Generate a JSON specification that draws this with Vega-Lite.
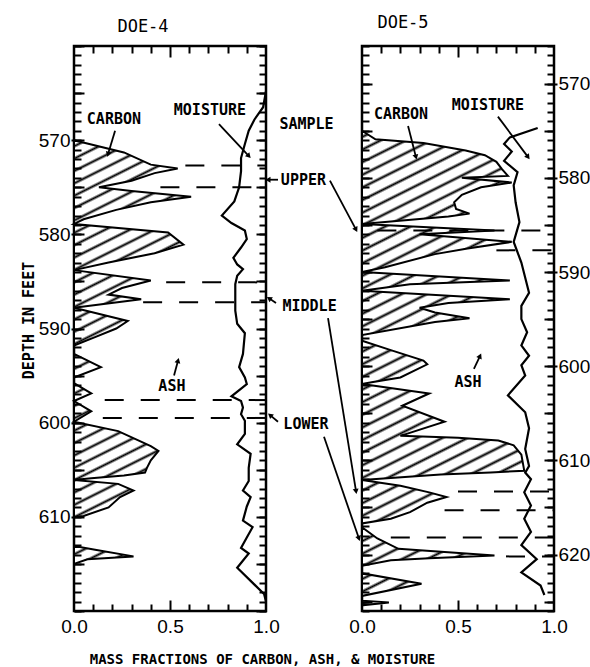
{
"$schema": "https://vega.github.io/schema/vega-lite/v6.json",
"background": "white",
"padding": {"left": 19, "top": 12, "right": 5, "bottom": 5},
"config": {
  "view": {"stroke": "black", "strokeWidth": 2.5},
  "axis": {"domain": false, "grid": false, "tickColor": "black", "tickWidth": 2, "labelColor": "black", "labelFont": "Liberation Sans Narrow, Liberation Sans", "labelFontSize": 19, "labelFlush": false, "labelOverlap": false, "titleColor": "black", "zindex": 1},
  "title": {"font": "DejaVu Sans Mono", "fontSize": 17, "fontWeight": "normal", "color": "black", "anchor": "middle", "frame": "group", "baseline": "alphabetic"}
},
"datasets": {
  "c4": [
    {"depth": 570.0, "carbon": 0.0}, {"depth": 571.3, "carbon": 0.26}, {"depth": 572.6, "carbon": 0.40}, {"depth": 573.0, "carbon": 0.54},
    {"depth": 573.5, "carbon": 0.42}, {"depth": 574.3, "carbon": 0.30}, {"depth": 575.0, "carbon": 0.13}, {"depth": 575.4, "carbon": 0.30},
    {"depth": 576.0, "carbon": 0.61}, {"depth": 576.6, "carbon": 0.40}, {"depth": 577.4, "carbon": 0.22}, {"depth": 578.4, "carbon": 0.05},
    {"depth": 578.9, "carbon": 0.0}, {"depth": 579.8, "carbon": 0.49}, {"depth": 581.1, "carbon": 0.57}, {"depth": 582.0, "carbon": 0.42},
    {"depth": 583.0, "carbon": 0.18}, {"depth": 583.8, "carbon": 0.0}, {"depth": 584.9, "carbon": 0.40}, {"depth": 585.7, "carbon": 0.25},
    {"depth": 586.4, "carbon": 0.18}, {"depth": 586.9, "carbon": 0.35}, {"depth": 587.8, "carbon": 0.0}, {"depth": 589.2, "carbon": 0.28},
    {"depth": 590.0, "carbon": 0.22}, {"depth": 591.0, "carbon": 0.10}, {"depth": 591.8, "carbon": 0.0}, {"depth": 592.7, "carbon": 0.0},
    {"depth": 594.1, "carbon": 0.14}, {"depth": 595.2, "carbon": 0.0}, {"depth": 595.8, "carbon": 0.0}, {"depth": 596.9, "carbon": 0.09},
    {"depth": 597.7, "carbon": 0.0}, {"depth": 598.8, "carbon": 0.09}, {"depth": 599.9, "carbon": 0.0}, {"depth": 600.9, "carbon": 0.23},
    {"depth": 602.5, "carbon": 0.40}, {"depth": 603.0, "carbon": 0.44}, {"depth": 604.0, "carbon": 0.40}, {"depth": 604.8, "carbon": 0.38},
    {"depth": 605.3, "carbon": 0.37}, {"depth": 605.6, "carbon": 0.26}, {"depth": 605.9, "carbon": 0.09}, {"depth": 606.1, "carbon": 0.0},
    {"depth": 606.5, "carbon": 0.23}, {"depth": 607.2, "carbon": 0.31}, {"depth": 607.9, "carbon": 0.24}, {"depth": 609.0, "carbon": 0.18},
    {"depth": 609.9, "carbon": 0.05}, {"depth": 610.0, "carbon": 0.0}, {"depth": 613.1, "carbon": 0.0}, {"depth": 613.5, "carbon": 0.11},
    {"depth": 614.2, "carbon": 0.31}, {"depth": 614.5, "carbon": 0.07}, {"depth": 615.0, "carbon": 0.0}
  ],
  "m4": [
    {"depth": 564.8, "moisture": 1.0}, {"depth": 566.5, "moisture": 0.985}, {"depth": 567.8, "moisture": 0.94}, {"depth": 569.0, "moisture": 0.91},
    {"depth": 570.4, "moisture": 0.89}, {"depth": 571.9, "moisture": 0.87}, {"depth": 573.3, "moisture": 0.87}, {"depth": 575.0, "moisture": 0.86},
    {"depth": 576.5, "moisture": 0.835}, {"depth": 578.0, "moisture": 0.77}, {"depth": 578.8, "moisture": 0.82}, {"depth": 579.6, "moisture": 0.89},
    {"depth": 580.5, "moisture": 0.90}, {"depth": 581.4, "moisture": 0.87}, {"depth": 582.5, "moisture": 0.83}, {"depth": 583.2, "moisture": 0.85},
    {"depth": 583.7, "moisture": 0.88}, {"depth": 584.4, "moisture": 0.85}, {"depth": 585.3, "moisture": 0.84}, {"depth": 586.7, "moisture": 0.84},
    {"depth": 588.1, "moisture": 0.84}, {"depth": 589.5, "moisture": 0.85}, {"depth": 590.5, "moisture": 0.89}, {"depth": 592.7, "moisture": 0.88},
    {"depth": 594.1, "moisture": 0.86}, {"depth": 595.2, "moisture": 0.89}, {"depth": 595.9, "moisture": 0.90}, {"depth": 597.2, "moisture": 0.82},
    {"depth": 597.7, "moisture": 0.87}, {"depth": 598.4, "moisture": 0.88}, {"depth": 599.1, "moisture": 0.87}, {"depth": 599.8, "moisture": 0.89},
    {"depth": 601.2, "moisture": 0.89}, {"depth": 602.3, "moisture": 0.85}, {"depth": 603.3, "moisture": 0.92}, {"depth": 604.8, "moisture": 0.91},
    {"depth": 606.2, "moisture": 0.91}, {"depth": 607.2, "moisture": 0.88}, {"depth": 607.9, "moisture": 0.92}, {"depth": 608.9, "moisture": 0.90},
    {"depth": 610.4, "moisture": 0.88}, {"depth": 611.1, "moisture": 0.93}, {"depth": 612.2, "moisture": 0.90}, {"depth": 613.3, "moisture": 0.87},
    {"depth": 613.9, "moisture": 0.91}, {"depth": 615.4, "moisture": 0.85}, {"depth": 616.8, "moisture": 0.92}, {"depth": 618.2, "moisture": 0.99},
    {"depth": 619.0, "moisture": 1.0}
  ],
  "s4": [
    {"depth": 572.7, "from": 0.58, "to": 1.0}, {"depth": 575.0, "from": 0.45, "to": 1.0}, {"depth": 585.1, "from": 0.48, "to": 1.0},
    {"depth": 587.2, "from": 0.36, "to": 1.0}, {"depth": 597.6, "from": 0.16, "to": 1.0}, {"depth": 599.5, "from": 0.15, "to": 1.0}
  ],
  "t4": [
    {"text": "CARBON", "x": 0.208, "depth": 567.7}, {"text": "MOISTURE", "x": 0.708, "depth": 566.8}, {"text": "ASH", "x": 0.51, "depth": 596.1},
    {"text": "SAMPLE", "x": 1.211, "depth": 568.3}, {"text": "UPPER", "x": 1.195, "depth": 574.2}, {"text": "MIDDLE", "x": 1.227, "depth": 587.6},
    {"text": "LOWER", "x": 1.208, "depth": 600.1}
  ],
  "a4": [
    {"x": 0.214, "depth": 569.0, "x2": 0.177, "depth2": 571.5}, {"x": 0.755, "depth": 568.3, "x2": 0.911, "depth2": 571.7},
    {"x": 0.521, "depth": 595.0, "x2": 0.542, "depth2": 593.4}, {"x": 1.0625, "depth": 574.2, "x2": 1.01, "depth2": 574.2},
    {"x": 1.052, "depth": 587.3, "x2": 1.016, "depth2": 586.8}, {"x": 1.0625, "depth": 599.9, "x2": 1.021, "depth2": 599.2}
  ],
  "c5": [
    {"depth": 575.0, "carbon": 0.0}, {"depth": 575.9, "carbon": 0.07}, {"depth": 576.3, "carbon": 0.32}, {"depth": 577.1, "carbon": 0.54},
    {"depth": 577.6, "carbon": 0.64}, {"depth": 578.3, "carbon": 0.70}, {"depth": 579.1, "carbon": 0.73}, {"depth": 579.8, "carbon": 0.76},
    {"depth": 580.0, "carbon": 0.52}, {"depth": 580.5, "carbon": 0.78}, {"depth": 581.0, "carbon": 0.62}, {"depth": 581.8, "carbon": 0.52},
    {"depth": 582.6, "carbon": 0.48}, {"depth": 583.3, "carbon": 0.49}, {"depth": 583.8, "carbon": 0.56}, {"depth": 584.1, "carbon": 0.45},
    {"depth": 584.9, "carbon": 0.0}, {"depth": 585.6, "carbon": 0.69}, {"depth": 586.0, "carbon": 0.30}, {"depth": 586.8, "carbon": 0.78},
    {"depth": 587.5, "carbon": 0.55}, {"depth": 588.1, "carbon": 0.38}, {"depth": 589.5, "carbon": 0.12}, {"depth": 590.0, "carbon": 0.0},
    {"depth": 590.9, "carbon": 0.77}, {"depth": 591.3, "carbon": 0.25}, {"depth": 592.0, "carbon": 0.0}, {"depth": 592.9, "carbon": 0.77},
    {"depth": 593.3, "carbon": 0.45}, {"depth": 593.8, "carbon": 0.30}, {"depth": 594.3, "carbon": 0.38}, {"depth": 594.9, "carbon": 0.56},
    {"depth": 595.3, "carbon": 0.38}, {"depth": 596.7, "carbon": 0.0}, {"depth": 597.3, "carbon": 0.0}, {"depth": 598.3, "carbon": 0.15},
    {"depth": 599.4, "carbon": 0.32}, {"depth": 599.8, "carbon": 0.34}, {"depth": 601.2, "carbon": 0.20}, {"depth": 601.7, "carbon": 0.05},
    {"depth": 601.9, "carbon": 0.0}, {"depth": 602.9, "carbon": 0.35}, {"depth": 604.2, "carbon": 0.21}, {"depth": 605.9, "carbon": 0.43},
    {"depth": 607.4, "carbon": 0.20}, {"depth": 607.6, "carbon": 0.50}, {"depth": 607.9, "carbon": 0.71}, {"depth": 608.4, "carbon": 0.79},
    {"depth": 609.4, "carbon": 0.83}, {"depth": 611.1, "carbon": 0.845}, {"depth": 611.3, "carbon": 0.67}, {"depth": 611.5, "carbon": 0.41},
    {"depth": 612.1, "carbon": 0.0}, {"depth": 612.7, "carbon": 0.20}, {"depth": 613.4, "carbon": 0.35}, {"depth": 613.9, "carbon": 0.44},
    {"depth": 614.5, "carbon": 0.34}, {"depth": 615.5, "carbon": 0.25}, {"depth": 616.2, "carbon": 0.15}, {"depth": 616.7, "carbon": 0.0},
    {"depth": 617.1, "carbon": 0.0}, {"depth": 618.3, "carbon": 0.08}, {"depth": 619.4, "carbon": 0.19}, {"depth": 620.1, "carbon": 0.69},
    {"depth": 620.4, "carbon": 0.35}, {"depth": 620.6, "carbon": 0.15}, {"depth": 621.2, "carbon": 0.0}, {"depth": 622.0, "carbon": 0.0},
    {"depth": 623.1, "carbon": 0.31}, {"depth": 624.4, "carbon": 0.0}, {"depth": 624.9, "carbon": 0.0}, {"depth": 625.1, "carbon": 0.14},
    {"depth": 625.4, "carbon": 0.0}
  ],
  "m5": [
    {"depth": 574.7, "moisture": 0.915}, {"depth": 575.7, "moisture": 0.77}, {"depth": 576.4, "moisture": 0.74}, {"depth": 577.2, "moisture": 0.78},
    {"depth": 578.2, "moisture": 0.74}, {"depth": 579.4, "moisture": 0.81}, {"depth": 580.8, "moisture": 0.79}, {"depth": 582.6, "moisture": 0.80},
    {"depth": 584.7, "moisture": 0.82}, {"depth": 586.8, "moisture": 0.79}, {"depth": 589.0, "moisture": 0.83}, {"depth": 592.2, "moisture": 0.87},
    {"depth": 593.6, "moisture": 0.83}, {"depth": 595.0, "moisture": 0.83}, {"depth": 596.4, "moisture": 0.86}, {"depth": 597.8, "moisture": 0.83},
    {"depth": 598.9, "moisture": 0.87}, {"depth": 599.9, "moisture": 0.83}, {"depth": 601.0, "moisture": 0.85}, {"depth": 603.1, "moisture": 0.76},
    {"depth": 604.9, "moisture": 0.85}, {"depth": 606.6, "moisture": 0.87}, {"depth": 608.8, "moisture": 0.85}, {"depth": 610.6, "moisture": 0.87},
    {"depth": 611.3, "moisture": 0.85}, {"depth": 612.0, "moisture": 0.88}, {"depth": 613.4, "moisture": 0.845}, {"depth": 614.8, "moisture": 0.88},
    {"depth": 616.2, "moisture": 0.845}, {"depth": 617.6, "moisture": 0.88}, {"depth": 619.0, "moisture": 0.83}, {"depth": 620.5, "moisture": 0.91},
    {"depth": 621.9, "moisture": 0.83}, {"depth": 623.3, "moisture": 0.93}, {"depth": 624.3, "moisture": 0.95}
  ],
  "s5": [
    {"depth": 585.6, "from": 0.08, "to": 1.0}, {"depth": 587.7, "from": 0.70, "to": 1.0}, {"depth": 613.3, "from": 0.50, "to": 1.0},
    {"depth": 615.3, "from": 0.43, "to": 1.0}, {"depth": 618.2, "from": 0.15, "to": 1.0}, {"depth": 620.2, "from": 0.75, "to": 1.0}
  ],
  "t5": [
    {"text": "CARBON", "x": 0.203, "depth": 573.2}, {"text": "MOISTURE", "x": 0.656, "depth": 572.3}, {"text": "ASH", "x": 0.552, "depth": 601.7}
  ],
  "a5": [
    {"x": 0.240, "depth": 574.5, "x2": 0.281, "depth2": 577.8}, {"x": 0.708, "depth": 573.5, "x2": 0.865, "depth2": 577.8},
    {"x": 0.583, "depth": 600.3, "x2": 0.615, "depth2": 598.9}, {"x": -0.167, "depth": 580.3, "x2": -0.031, "depth2": 585.5},
    {"x": -0.177, "depth": 594.9, "x2": -0.031, "depth2": 613.3}, {"x": -0.198, "depth": 607.5, "x2": -0.016, "depth2": 618.3}
  ]
},
"hconcat": [
  {
    "width": 192, "height": 565,
    "title": {"text": "DOE-4", "dx": -27, "offset": 9},
    "resolve": {"axis": {"x": "independent", "y": "independent"}},
    "layer": [
      {
        "data": {"name": "c4"},
        "mark": {"type": "area", "orient": "horizontal", "stroke": "black", "strokeWidth": 2,
          "fill": {"gradient": "linear", "x1": 0, "y1": 0, "x2": 0.1543, "y2": 1.1168, "stops": [
{"offset":0.00782,"color":"white"},{"offset":0.01282,"color":"black"},{"offset":0.01782,"color":"white"},
{"offset":0.03346,"color":"white"},{"offset":0.03846,"color":"black"},{"offset":0.04346,"color":"white"},
{"offset":0.05910,"color":"white"},{"offset":0.06410,"color":"black"},{"offset":0.06910,"color":"white"},
{"offset":0.08474,"color":"white"},{"offset":0.08974,"color":"black"},{"offset":0.09474,"color":"white"},
{"offset":0.11038,"color":"white"},{"offset":0.11538,"color":"black"},{"offset":0.12038,"color":"white"},
{"offset":0.13603,"color":"white"},{"offset":0.14103,"color":"black"},{"offset":0.14603,"color":"white"},
{"offset":0.16167,"color":"white"},{"offset":0.16667,"color":"black"},{"offset":0.17167,"color":"white"},
{"offset":0.18731,"color":"white"},{"offset":0.19231,"color":"black"},{"offset":0.19731,"color":"white"},
{"offset":0.21295,"color":"white"},{"offset":0.21795,"color":"black"},{"offset":0.22295,"color":"white"},
{"offset":0.23859,"color":"white"},{"offset":0.24359,"color":"black"},{"offset":0.24859,"color":"white"},
{"offset":0.26423,"color":"white"},{"offset":0.26923,"color":"black"},{"offset":0.27423,"color":"white"},
{"offset":0.28987,"color":"white"},{"offset":0.29487,"color":"black"},{"offset":0.29987,"color":"white"},
{"offset":0.31551,"color":"white"},{"offset":0.32051,"color":"black"},{"offset":0.32551,"color":"white"},
{"offset":0.34115,"color":"white"},{"offset":0.34615,"color":"black"},{"offset":0.35115,"color":"white"},
{"offset":0.36679,"color":"white"},{"offset":0.37179,"color":"black"},{"offset":0.37679,"color":"white"},
{"offset":0.39244,"color":"white"},{"offset":0.39744,"color":"black"},{"offset":0.40244,"color":"white"},
{"offset":0.41808,"color":"white"},{"offset":0.42308,"color":"black"},{"offset":0.42808,"color":"white"},
{"offset":0.44372,"color":"white"},{"offset":0.44872,"color":"black"},{"offset":0.45372,"color":"white"},
{"offset":0.46936,"color":"white"},{"offset":0.47436,"color":"black"},{"offset":0.47936,"color":"white"},
{"offset":0.49500,"color":"white"},{"offset":0.50000,"color":"black"},{"offset":0.50500,"color":"white"},
{"offset":0.52064,"color":"white"},{"offset":0.52564,"color":"black"},{"offset":0.53064,"color":"white"},
{"offset":0.54628,"color":"white"},{"offset":0.55128,"color":"black"},{"offset":0.55628,"color":"white"},
{"offset":0.57192,"color":"white"},{"offset":0.57692,"color":"black"},{"offset":0.58192,"color":"white"},
{"offset":0.59756,"color":"white"},{"offset":0.60256,"color":"black"},{"offset":0.60756,"color":"white"},
{"offset":0.62321,"color":"white"},{"offset":0.62821,"color":"black"},{"offset":0.63321,"color":"white"},
{"offset":0.64885,"color":"white"},{"offset":0.65385,"color":"black"},{"offset":0.65885,"color":"white"},
{"offset":0.67449,"color":"white"},{"offset":0.67949,"color":"black"},{"offset":0.68449,"color":"white"},
{"offset":0.70013,"color":"white"},{"offset":0.70513,"color":"black"},{"offset":0.71013,"color":"white"},
{"offset":0.72577,"color":"white"},{"offset":0.73077,"color":"black"},{"offset":0.73577,"color":"white"},
{"offset":0.75141,"color":"white"},{"offset":0.75641,"color":"black"},{"offset":0.76141,"color":"white"},
{"offset":0.77705,"color":"white"},{"offset":0.78205,"color":"black"},{"offset":0.78705,"color":"white"},
{"offset":0.80269,"color":"white"},{"offset":0.80769,"color":"black"},{"offset":0.81269,"color":"white"},
{"offset":0.82833,"color":"white"},{"offset":0.83333,"color":"black"},{"offset":0.83833,"color":"white"},
{"offset":0.85397,"color":"white"},{"offset":0.85897,"color":"black"},{"offset":0.86397,"color":"white"},
{"offset":0.87962,"color":"white"},{"offset":0.88462,"color":"black"},{"offset":0.88962,"color":"white"},
{"offset":0.90526,"color":"white"},{"offset":0.91026,"color":"black"},{"offset":0.91526,"color":"white"},
{"offset":0.93090,"color":"white"},{"offset":0.93590,"color":"black"},{"offset":0.94090,"color":"white"},
{"offset":0.95654,"color":"white"},{"offset":0.96154,"color":"black"},{"offset":0.96654,"color":"white"},
{"offset":0.98218,"color":"white"},{"offset":0.98718,"color":"black"},{"offset":0.99218,"color":"white"}
          ]}},
        "encoding": {
          "x": {"field": "carbon", "type": "quantitative", "stack": null, "scale": {"domain": [0, 1], "nice": false, "zero": false},
                "axis": {"orient": "bottom", "values": [0, 0.5, 1], "format": ".1f", "ticks": false, "labelPadding": 6, "zindex": 1,
                         "title": "MASS FRACTIONS OF CARBON, ASH, & MOISTURE", "titleFont": "DejaVu Sans Mono", "titleFontSize": 14, "titleFontWeight": "bold",
                         "titleX": 188, "titleY": 48, "titleAlign": "center", "titleBaseline": "middle", "titleAnchor": "start"}},
          "y": {"field": "depth", "type": "quantitative", "scale": {"domain": [560, 620], "reverse": true, "nice": false, "zero": false},
                "axis": {"orient": "left", "values": [570, 580, 590, 600, 610], "ticks": true, "tickSize": 3, "labelPadding": 1, "zindex": 1,
                         "title": "DEPTH IN FEET", "titleFont": "DejaVu Sans Mono", "titleFontSize": 15, "titleFontWeight": "bold",
                         "titleX": -46, "titleY": 274, "titleAngle": 270, "titleAlign": "center", "titleBaseline": "middle", "titleAnchor": "start"}}
        }
      },
      {
        "data": {"name": "m4"},
        "mark": {"type": "line", "stroke": "black", "strokeWidth": 2.2},
        "encoding": {
          "x": {"field": "moisture", "type": "quantitative", "scale": {"domain": [0, 1], "nice": false, "zero": false},
                "axis": {"orient": "bottom", "values": [0.1, 0.2, 0.3, 0.4, 0.6, 0.7, 0.8, 0.9], "labels": false, "tickSize": 7, "offset": -7, "zindex": 1, "title": null}},
          "y": {"field": "depth", "type": "quantitative", "scale": {"domain": [560, 620], "reverse": true, "nice": false, "zero": false},
                "axis": {"orient": "left", "tickCount": 60, "labels": false, "tickSize": 7, "offset": -7, "zindex": 1, "title": null}},
          "order": {"field": "depth", "type": "quantitative"}
        }
      },
      {
        "data": {"name": "s4"},
        "mark": {"type": "rule", "color": "black", "strokeWidth": 2, "strokeDash": [19, 17]},
        "encoding": {
          "x": {"field": "from", "type": "quantitative", "scale": {"domain": [0, 1], "nice": false, "zero": false},
                "axis": {"orient": "bottom", "values": [0.5], "labels": false, "tickSize": 11, "offset": -11, "zindex": 1, "title": null}},
          "x2": {"field": "to"},
          "y": {"field": "depth", "type": "quantitative", "scale": {"domain": [560, 620], "reverse": true, "nice": false, "zero": false},
                "axis": {"orient": "left", "tickCount": 12, "labels": false, "tickSize": 10, "offset": -10, "zindex": 1, "title": null}}
        }
      },
      {
        "data": {"name": "t4"},
        "mark": {"type": "text", "font": "DejaVu Sans Mono", "fontWeight": "bold", "fontSize": 15, "color": "black", "align": "center", "baseline": "middle"},
        "encoding": {
          "x": {"field": "x", "type": "quantitative", "scale": {"domain": [0, 1], "nice": false, "zero": false},
                "axis": {"orient": "top", "values": [0.1, 0.2, 0.3, 0.4, 0.6, 0.7, 0.8, 0.9], "labels": false, "tickSize": 7, "offset": -7, "zindex": 1, "title": null}},
          "y": {"field": "depth", "type": "quantitative", "scale": {"domain": [560, 620], "reverse": true, "nice": false, "zero": false},
                "axis": {"orient": "right", "tickCount": 60, "labels": false, "tickSize": 7, "offset": -7, "zindex": 1, "title": null}},
          "text": {"field": "text"}
        }
      },
      {
        "data": {"name": "a4"},
        "mark": {"type": "rule", "color": "black", "strokeWidth": 1.8},
        "encoding": {
          "x": {"field": "x", "type": "quantitative", "scale": {"domain": [0, 1], "nice": false, "zero": false},
                "axis": {"orient": "top", "values": [0.5], "labels": false, "tickSize": 11, "offset": -11, "zindex": 1, "title": null}},
          "x2": {"field": "x2"},
          "y": {"field": "depth", "type": "quantitative", "scale": {"domain": [560, 620], "reverse": true, "nice": false, "zero": false},
                "axis": {"orient": "right", "tickCount": 12, "labels": false, "tickSize": 10, "offset": -10, "zindex": 1, "title": null}},
          "y2": {"field": "depth2"}
        }
      },
      {
        "data": {"name": "a4"},
        "transform": [{"calculate": "atan2((datum.x2 - datum.x) * 192, -(datum.depth2 - datum.depth) * 9.417) * 180 / PI", "as": "ang"}],
        "mark": {"type": "point", "shape": "triangle-up", "filled": true, "size": 35, "color": "black", "opacity": 1},
        "encoding": {
          "x": {"field": "x2", "type": "quantitative", "scale": {"domain": [0, 1], "nice": false, "zero": false}, "axis": null},
          "y": {"field": "depth2", "type": "quantitative", "scale": {"domain": [560, 620], "reverse": true, "nice": false, "zero": false}, "axis": null},
          "angle": {"field": "ang", "type": "quantitative", "scale": null}
        }
      }
    ]
  },
  {
    "width": 192, "height": 565,
    "title": {"text": "DOE-5", "dx": -55, "offset": 13},
    "resolve": {"axis": {"x": "independent", "y": "independent"}},
    "layer": [
      {
        "data": {"name": "c5"},
        "mark": {"type": "area", "orient": "horizontal", "stroke": "black", "strokeWidth": 2,
          "fill": {"gradient": "linear", "x1": 0, "y1": 0, "x2": 0.1944, "y2": 1.1377, "stops": [
{"offset":0.00686,"color":"white"},{"offset":0.01136,"color":"black"},{"offset":0.01586,"color":"white"},
{"offset":0.02959,"color":"white"},{"offset":0.03409,"color":"black"},{"offset":0.03859,"color":"white"},
{"offset":0.05232,"color":"white"},{"offset":0.05682,"color":"black"},{"offset":0.06132,"color":"white"},
{"offset":0.07505,"color":"white"},{"offset":0.07955,"color":"black"},{"offset":0.08405,"color":"white"},
{"offset":0.09777,"color":"white"},{"offset":0.10227,"color":"black"},{"offset":0.10677,"color":"white"},
{"offset":0.12050,"color":"white"},{"offset":0.12500,"color":"black"},{"offset":0.12950,"color":"white"},
{"offset":0.14323,"color":"white"},{"offset":0.14773,"color":"black"},{"offset":0.15223,"color":"white"},
{"offset":0.16595,"color":"white"},{"offset":0.17045,"color":"black"},{"offset":0.17495,"color":"white"},
{"offset":0.18868,"color":"white"},{"offset":0.19318,"color":"black"},{"offset":0.19768,"color":"white"},
{"offset":0.21141,"color":"white"},{"offset":0.21591,"color":"black"},{"offset":0.22041,"color":"white"},
{"offset":0.23414,"color":"white"},{"offset":0.23864,"color":"black"},{"offset":0.24314,"color":"white"},
{"offset":0.25686,"color":"white"},{"offset":0.26136,"color":"black"},{"offset":0.26586,"color":"white"},
{"offset":0.27959,"color":"white"},{"offset":0.28409,"color":"black"},{"offset":0.28859,"color":"white"},
{"offset":0.30232,"color":"white"},{"offset":0.30682,"color":"black"},{"offset":0.31132,"color":"white"},
{"offset":0.32505,"color":"white"},{"offset":0.32955,"color":"black"},{"offset":0.33405,"color":"white"},
{"offset":0.34777,"color":"white"},{"offset":0.35227,"color":"black"},{"offset":0.35677,"color":"white"},
{"offset":0.37050,"color":"white"},{"offset":0.37500,"color":"black"},{"offset":0.37950,"color":"white"},
{"offset":0.39323,"color":"white"},{"offset":0.39773,"color":"black"},{"offset":0.40223,"color":"white"},
{"offset":0.41595,"color":"white"},{"offset":0.42045,"color":"black"},{"offset":0.42495,"color":"white"},
{"offset":0.43868,"color":"white"},{"offset":0.44318,"color":"black"},{"offset":0.44768,"color":"white"},
{"offset":0.46141,"color":"white"},{"offset":0.46591,"color":"black"},{"offset":0.47041,"color":"white"},
{"offset":0.48414,"color":"white"},{"offset":0.48864,"color":"black"},{"offset":0.49314,"color":"white"},
{"offset":0.50686,"color":"white"},{"offset":0.51136,"color":"black"},{"offset":0.51586,"color":"white"},
{"offset":0.52959,"color":"white"},{"offset":0.53409,"color":"black"},{"offset":0.53859,"color":"white"},
{"offset":0.55232,"color":"white"},{"offset":0.55682,"color":"black"},{"offset":0.56132,"color":"white"},
{"offset":0.57505,"color":"white"},{"offset":0.57955,"color":"black"},{"offset":0.58405,"color":"white"},
{"offset":0.59777,"color":"white"},{"offset":0.60227,"color":"black"},{"offset":0.60677,"color":"white"},
{"offset":0.62050,"color":"white"},{"offset":0.62500,"color":"black"},{"offset":0.62950,"color":"white"},
{"offset":0.64323,"color":"white"},{"offset":0.64773,"color":"black"},{"offset":0.65223,"color":"white"},
{"offset":0.66595,"color":"white"},{"offset":0.67045,"color":"black"},{"offset":0.67495,"color":"white"},
{"offset":0.68868,"color":"white"},{"offset":0.69318,"color":"black"},{"offset":0.69768,"color":"white"},
{"offset":0.71141,"color":"white"},{"offset":0.71591,"color":"black"},{"offset":0.72041,"color":"white"},
{"offset":0.73414,"color":"white"},{"offset":0.73864,"color":"black"},{"offset":0.74314,"color":"white"},
{"offset":0.75686,"color":"white"},{"offset":0.76136,"color":"black"},{"offset":0.76586,"color":"white"},
{"offset":0.77959,"color":"white"},{"offset":0.78409,"color":"black"},{"offset":0.78859,"color":"white"},
{"offset":0.80232,"color":"white"},{"offset":0.80682,"color":"black"},{"offset":0.81132,"color":"white"},
{"offset":0.82505,"color":"white"},{"offset":0.82955,"color":"black"},{"offset":0.83405,"color":"white"},
{"offset":0.84777,"color":"white"},{"offset":0.85227,"color":"black"},{"offset":0.85677,"color":"white"},
{"offset":0.87050,"color":"white"},{"offset":0.87500,"color":"black"},{"offset":0.87950,"color":"white"},
{"offset":0.89323,"color":"white"},{"offset":0.89773,"color":"black"},{"offset":0.90223,"color":"white"},
{"offset":0.91595,"color":"white"},{"offset":0.92045,"color":"black"},{"offset":0.92495,"color":"white"},
{"offset":0.93868,"color":"white"},{"offset":0.94318,"color":"black"},{"offset":0.94768,"color":"white"},
{"offset":0.96141,"color":"white"},{"offset":0.96591,"color":"black"},{"offset":0.97041,"color":"white"},
{"offset":0.98414,"color":"white"},{"offset":0.98864,"color":"black"},{"offset":0.99314,"color":"white"}
          ]}},
        "encoding": {
          "x": {"field": "carbon", "type": "quantitative", "stack": null, "scale": {"domain": [0, 1], "nice": false, "zero": false},
                "axis": {"orient": "bottom", "values": [0, 0.5, 1], "format": ".1f", "ticks": false, "labelPadding": 6, "zindex": 1, "title": null}},
          "y": {"field": "depth", "type": "quantitative", "scale": {"domain": [566, 626], "reverse": true, "nice": false, "zero": false},
                "axis": {"orient": "right", "values": [570, 580, 590, 600, 610, 620], "ticks": true, "tickSize": 3, "labelPadding": 1, "zindex": 1, "title": null}}
        }
      },
      {
        "data": {"name": "m5"},
        "mark": {"type": "line", "stroke": "black", "strokeWidth": 2.2},
        "encoding": {
          "x": {"field": "moisture", "type": "quantitative", "scale": {"domain": [0, 1], "nice": false, "zero": false},
                "axis": {"orient": "bottom", "values": [0.1, 0.2, 0.3, 0.4, 0.6, 0.7, 0.8, 0.9], "labels": false, "tickSize": 7, "offset": -7, "zindex": 1, "title": null}},
          "y": {"field": "depth", "type": "quantitative", "scale": {"domain": [566, 626], "reverse": true, "nice": false, "zero": false},
                "axis": {"orient": "left", "tickCount": 60, "labels": false, "tickSize": 7, "offset": -7, "zindex": 1, "title": null}},
          "order": {"field": "depth", "type": "quantitative"}
        }
      },
      {
        "data": {"name": "s5"},
        "mark": {"type": "rule", "color": "black", "strokeWidth": 2, "strokeDash": [19, 17]},
        "encoding": {
          "x": {"field": "from", "type": "quantitative", "scale": {"domain": [0, 1], "nice": false, "zero": false},
                "axis": {"orient": "bottom", "values": [0.5], "labels": false, "tickSize": 11, "offset": -11, "zindex": 1, "title": null}},
          "x2": {"field": "to"},
          "y": {"field": "depth", "type": "quantitative", "scale": {"domain": [566, 626], "reverse": true, "nice": false, "zero": false},
                "axis": {"orient": "left", "tickCount": 12, "labels": false, "tickSize": 10, "offset": -10, "zindex": 1, "title": null}}
        }
      },
      {
        "data": {"name": "t5"},
        "mark": {"type": "text", "font": "DejaVu Sans Mono", "fontWeight": "bold", "fontSize": 15, "color": "black", "align": "center", "baseline": "middle"},
        "encoding": {
          "x": {"field": "x", "type": "quantitative", "scale": {"domain": [0, 1], "nice": false, "zero": false},
                "axis": {"orient": "top", "values": [0.1, 0.2, 0.3, 0.4, 0.6, 0.7, 0.8, 0.9], "labels": false, "tickSize": 7, "offset": -7, "zindex": 1, "title": null}},
          "y": {"field": "depth", "type": "quantitative", "scale": {"domain": [566, 626], "reverse": true, "nice": false, "zero": false},
                "axis": {"orient": "right", "tickCount": 60, "labels": false, "tickSize": 7, "offset": -7, "zindex": 1, "title": null}},
          "text": {"field": "text"}
        }
      },
      {
        "data": {"name": "a5"},
        "mark": {"type": "rule", "color": "black", "strokeWidth": 1.8},
        "encoding": {
          "x": {"field": "x", "type": "quantitative", "scale": {"domain": [0, 1], "nice": false, "zero": false},
                "axis": {"orient": "top", "values": [0.5], "labels": false, "tickSize": 11, "offset": -11, "zindex": 1, "title": null}},
          "x2": {"field": "x2"},
          "y": {"field": "depth", "type": "quantitative", "scale": {"domain": [566, 626], "reverse": true, "nice": false, "zero": false},
                "axis": {"orient": "right", "tickCount": 12, "labels": false, "tickSize": 10, "offset": -10, "zindex": 1, "title": null}},
          "y2": {"field": "depth2"}
        }
      },
      {
        "data": {"name": "a5"},
        "transform": [{"calculate": "atan2((datum.x2 - datum.x) * 192, -(datum.depth2 - datum.depth) * 9.417) * 180 / PI", "as": "ang"}],
        "mark": {"type": "point", "shape": "triangle-up", "filled": true, "size": 35, "color": "black", "opacity": 1},
        "encoding": {
          "x": {"field": "x2", "type": "quantitative", "scale": {"domain": [0, 1], "nice": false, "zero": false}, "axis": null},
          "y": {"field": "depth2", "type": "quantitative", "scale": {"domain": [566, 626], "reverse": true, "nice": false, "zero": false}, "axis": null},
          "angle": {"field": "ang", "type": "quantitative", "scale": null}
        }
      }
    ]
  }
],
"spacing": 96,
"bounds": "flush"
}
